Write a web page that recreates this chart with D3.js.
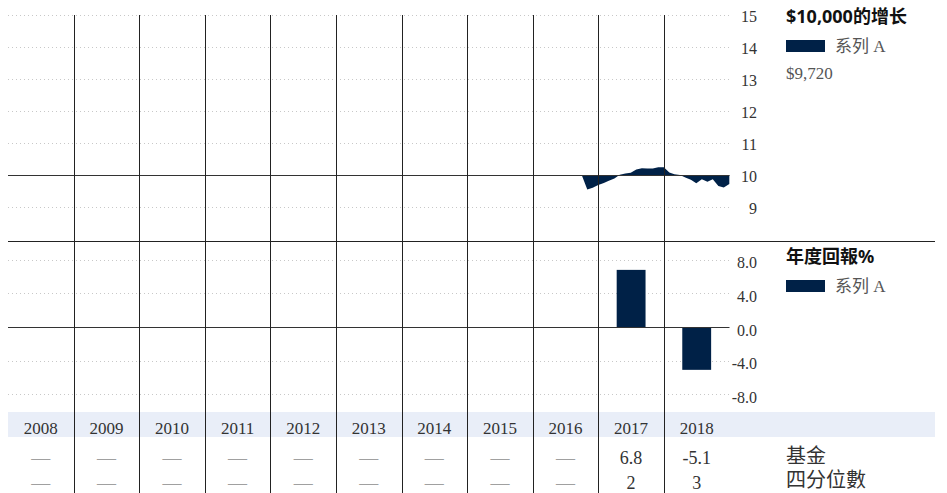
<!DOCTYPE html>
<html>
<head>
<meta charset="utf-8">
<script src="https://cdn.jsdelivr.net/npm/d3@7"></script>
<style>
  html, body { margin: 0; padding: 0; background: #fff; }
  svg { display: block; }
</style>
</head>
<body>
<svg id="chart" width="947" height="493"></svg>
<script>
// Calendar years shown as columns
const years = [2008, 2009, 2010, 2011, 2012, 2013, 2014, 2015, 2016, 2017, 2018];

// Growth of $10,000 (in thousands), month-end values
const growthDates = [
  "2016-09-30", "2016-10-31", "2016-11-30", "2016-12-31",
  "2017-01-31", "2017-02-28", "2017-03-31", "2017-04-30", "2017-05-31", "2017-06-30",
  "2017-07-31", "2017-08-31", "2017-09-30", "2017-10-31", "2017-11-30", "2017-12-31",
  "2018-01-31", "2018-02-28", "2018-03-31", "2018-04-30", "2018-05-31", "2018-06-30",
  "2018-07-31", "2018-08-31", "2018-09-30", "2018-10-31", "2018-11-30", "2018-12-31"
];
const growthValues = [
  10.00, 9.55, 9.60, 9.69,
  9.75, 9.82, 9.89, 10.01, 10.05, 10.07,
  10.17, 10.21, 10.20, 10.20, 10.24, 10.24,
  10.08, 10.02, 10.00, 9.92, 9.85, 9.74,
  9.87, 9.79, 9.87, 9.66, 9.61, 9.72
];

// Annual returns (%) and quartile ranks, null where no data
const annualReturns = [null, null, null, null, null, null, null, null, null, 6.8, -5.1];
const quartiles = [null, null, null, null, null, null, null, null, null, 2, 3];

// Axis ticks
const growthTicks = [9, 10, 11, 12, 13, 14, 15];
const returnTicks = [-8, -4, 0, 4, 8];

// Labels
const growthTitle = "$10,000的增长";
const returnTitle = "年度回報%";
const seriesName = "系列 A";
const endValueLabel = "$9,720";
const rowLabels = ["基金", "四分位數"];

const NAVY = "#002147";
const SERIF = "'Liberation Serif', 'Times New Roman', 'Noto Sans CJK SC', serif";
const SANS = "'Noto Sans', 'Noto Sans CJK SC', sans-serif";

// Number formats with a plain hyphen for negatives
const locale = d3.formatLocale({ decimal: ".", thousands: ",", grouping: [3], currency: ["$", ""], minus: "-" });
const fmt1 = locale.format(".1f");
const fmt0 = locale.format("d");

const svg = d3.select("#chart");
const left = 8, right = 729.5;

const x = d3.scaleBand().domain(years).range([left, right]);
const xt = d3.scaleUtc()
  .domain([new Date(Date.UTC(years[0], 0, 1)), new Date(Date.UTC(years[years.length - 1] + 1, 0, 1))])
  .range([left, right]);

const yG = d3.scaleLinear().domain([8, 15]).range([239, 15]);
const yR = d3.scaleLinear().domain([-10, 10]).range([411, 243]);

// Year band behind the table
svg.append("rect")
  .attr("x", left).attr("y", 412).attr("width", 935 - left).attr("height", 25)
  .attr("fill", "#e9eef8");

// Dotted gridlines
function dotted(scale, ticks, base) {
  svg.append("g").selectAll("line")
    .data(ticks.filter(t => t !== base))
    .join("line")
    .attr("x1", left).attr("x2", right)
    .attr("y1", d => Math.round(scale(d)) + 0.5)
    .attr("y2", d => Math.round(scale(d)) + 0.5)
    .attr("stroke", "#c8c8c8")
    .attr("stroke-width", 1)
    .attr("stroke-dasharray", "1,3");
}
dotted(yG, growthTicks, 10);
dotted(yR, returnTicks, 0);

// Growth area, filled between the series and the $10,000 baseline
const growth = growthDates.map((d, i) => ({ date: new Date(d + "T00:00:00Z"), value: growthValues[i] }));
svg.append("path")
  .datum(growth)
  .attr("fill", NAVY)
  .attr("d", d3.area()
    .x(d => xt(d.date))
    .y0(yG(10))
    .y1(d => yG(d.value)));

// Return bars
const barW = x.bandwidth() * 0.44;
svg.append("g").selectAll("rect")
  .data(years.map((y, i) => ({ year: y, v: annualReturns[i] })).filter(d => d.v !== null))
  .join("rect")
  .attr("x", d => x(d.year) + (x.bandwidth() - barW) / 2)
  .attr("width", barW)
  .attr("y", d => yR(Math.max(0, d.v)))
  .attr("height", d => Math.abs(yR(d.v) - yR(0)))
  .attr("fill", NAVY);

// Baselines
svg.append("line")
  .attr("x1", left).attr("x2", right)
  .attr("y1", Math.round(yG(10)) + 0.5).attr("y2", Math.round(yG(10)) + 0.5)
  .attr("stroke", "#333").attr("stroke-width", 1);
svg.append("line")
  .attr("x1", left).attr("x2", right)
  .attr("y1", Math.round(yR(0)) + 0.5).attr("y2", Math.round(yR(0)) + 0.5)
  .attr("stroke", "#333").attr("stroke-width", 1);

// Panel separator
svg.append("line")
  .attr("x1", left).attr("x2", 935)
  .attr("y1", 241.5).attr("y2", 241.5)
  .attr("stroke", "#222").attr("stroke-width", 1);

// Column dividers
svg.append("g").selectAll("line")
  .data(years.slice(1))
  .join("line")
  .attr("x1", d => Math.round(x(d)) + 0.5).attr("x2", d => Math.round(x(d)) + 0.5)
  .attr("y1", yG(15)).attr("y2", 493)
  .attr("stroke", "#222").attr("stroke-width", 1);

// Right-hand axes
const axG = svg.append("g").attr("transform", "translate(757,0)")
  .call(d3.axisRight(yG).tickValues(growthTicks).tickSize(0).tickPadding(0).tickFormat(fmt0));
const axR = svg.append("g").attr("transform", "translate(757,0)")
  .call(d3.axisRight(yR).tickValues(returnTicks).tickSize(0).tickPadding(0).tickFormat(fmt1));
[axG, axR].forEach(ax => {
  ax.select(".domain").remove();
  ax.selectAll("text")
    .attr("text-anchor", "end")
    .attr("font-family", SERIF)
    .attr("font-size", 16)
    .attr("fill", "#333");
});
axG.selectAll("text").attr("dy", "0.42em");
axR.selectAll("text").attr("dy", "0.5em");

// Titles and legends
function legendBlock(title, y0) {
  svg.append("text")
    .attr("x", 786).attr("y", y0)
    .attr("font-family", SANS).attr("font-weight", "bold").attr("font-size", 18)
    .attr("fill", "#111").text(title);
  svg.append("rect")
    .attr("x", 786).attr("y", y0 + 17).attr("width", 39).attr("height", 12)
    .attr("fill", NAVY);
  svg.append("text")
    .attr("x", 835).attr("y", y0 + 29)
    .attr("font-family", SERIF).attr("font-size", 17)
    .attr("fill", "#555").text(seriesName);
}
legendBlock(growthTitle, 23);
legendBlock(returnTitle, 263);

svg.append("text")
  .attr("x", 786).attr("y", 79)
  .attr("font-family", SERIF).attr("font-size", 17)
  .attr("fill", "#555").text(endValueLabel);

// Table: year labels, returns, quartiles
const cx = d => x(d) + x.bandwidth() / 2;
svg.append("g").selectAll("text")
  .data(years).join("text")
  .attr("x", cx).attr("y", 434)
  .attr("text-anchor", "middle")
  .attr("font-family", SERIF).attr("font-size", 17)
  .attr("fill", "#333").text(d => d);

function tableRow(values, yBase, fmt) {
  svg.append("g").selectAll("text")
    .data(years.map((y, i) => ({ year: y, v: values[i] })))
    .join("text")
    .attr("x", d => cx(d.year)).attr("y", yBase)
    .attr("text-anchor", "middle")
    .attr("font-family", SERIF)
    .attr("font-size", d => d.v === null ? 19 : 18)
    .attr("fill", d => d.v === null ? "#a0a0a0" : "#333")
    .text(d => d.v === null ? "—" : fmt(d.v));
}
tableRow(annualReturns, 464, fmt1);
tableRow(quartiles, 489, fmt0);

svg.append("g").selectAll("text")
  .data(rowLabels).join("text")
  .attr("x", 786).attr("y", (d, i) => 463 + i * 24)
  .attr("font-family", SERIF).attr("font-size", 20)
  .attr("fill", "#333").text(d => d);
</script>
</body>
</html>
